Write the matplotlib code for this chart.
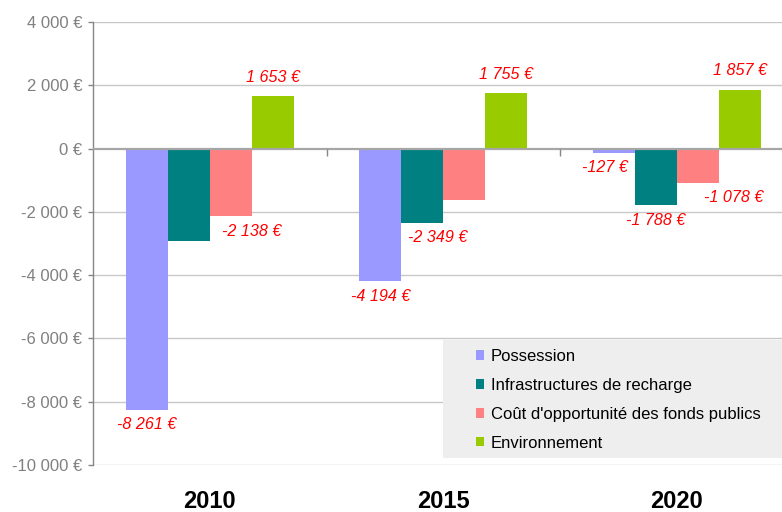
import matplotlib
matplotlib.use("Agg")
import matplotlib.pyplot as plt
from matplotlib.patches import Rectangle
from matplotlib.transforms import blended_transform_factory
import numpy as np

plt.rcParams['font.family'] = ['Liberation Sans', 'DejaVu Sans']

# ---- data ----
years = ["2010", "2015", "2020"]
series_names = ["Possession", "Infrastructures de recharge",
                "Coût d'opportunité des fonds publics", "Environnement"]
possession = [-8261, -4194, -127]
infrastructures = [-2910, -2349, -1788]
cout_fonds = [-2138, -1640, -1078]
environnement = [1653, 1755, 1857]
# which values carry a data label
show_possession = [True, True, True]
show_infra = [False, True, True]
show_cout = [True, False, True]
show_env = [True, True, True]
yticks = [4000, 2000, 0, -2000, -4000, -6000, -8000, -10000]

colors = ["#9999FF", "#008080", "#FF8080", "#99CC00"]
# horizontal label offsets in pixels (manual placement in original)
xoff = [[0, 0, -9], [0, 15, 0], [21, 0, 36], [0, 0, 0]]

def fmt(v):
    s = f"{abs(v):,}".replace(",", " ")
    return ("-" if v < 0 else "") + s + " €"

W, H = 782, 512
fig = plt.figure(figsize=(W / 100, H / 100), dpi=100)
ax = fig.add_axes([93 / W, 47 / H, (W - 93) / W, (465 - 22) / H])
ax.set_xlim(-0.5, -0.5 + (W - 93) / 233.5)
ax.set_ylim(-10000, 4000)

x = np.arange(len(years))
w = 0.18
all_series = [possession, infrastructures, cout_fonds, environnement]
shows = [show_possession, show_infra, show_cout, show_env]
offsets = [-1.5 * w, -0.5 * w, 0.5 * w, 1.5 * w]

for i, (vals, c, off) in enumerate(zip(all_series, colors, offsets)):
    ax.bar(x + off, vals, width=w, color=c, zorder=3, label=series_names[i])
    for j, v in enumerate(vals):
        if not shows[i][j]:
            continue
        dy = 19 if v > 0 else -15
        ax.annotate(fmt(v), (x[j] + off, v), xytext=(xoff[i][j] * 0.72, dy * 0.72),
                    textcoords="offset points", ha="center", va="center",
                    color="#FF0000", fontstyle="italic", fontsize=11.6, zorder=5)

# grid & axes
ax.set_yticks(yticks)
ax.set_yticklabels([fmt(t) for t in yticks], color="#808080", fontsize=12)
for t in yticks:
    if t != 0:
        ax.axhline(t, color="#c8c8c8", lw=1.0, zorder=1)
ax.axhline(0, color="#a6a6a6", lw=1.6, zorder=4)
ax.tick_params(axis="y", length=3.6, color="#868686", width=1, pad=4)
ax.tick_params(axis="x", length=0)
ax.set_xticks([])
for s in ["top", "right", "bottom"]:
    ax.spines[s].set_visible(False)
ax.spines["left"].set_color("#868686")
ax.spines["left"].set_linewidth(1)

# category separator ticks on zero line
ax.vlines([0.5, 1.5], 0, -250, color="#868686", lw=1, zorder=4)

# category labels at bottom
tr = blended_transform_factory(ax.transData, fig.transFigure)
for xi, yr in zip(x, years):
    ax.text(xi, 10 / H, yr, transform=tr, ha="center", va="center",
            fontsize=17, fontweight="bold", color="black")

# legend background
fig.patches.append(Rectangle((443 / W, (H - 458) / H), (W - 443) / W + 0.01,
                             (458 - 340) / H, transform=fig.transFigure,
                             facecolor="#eeeeee", edgecolor="none", zorder=6))
leg = fig.legend(loc="upper left", bbox_to_anchor=(476 / W, (H - 349) / H),
                 frameon=False, fontsize=12, handlelength=0.5, handleheight=0.5,
                 handletextpad=0.4, labelspacing=0.83, borderpad=0,
                 borderaxespad=0)
leg.set_zorder(7)

fig.savefig("out.png", dpi=100)
